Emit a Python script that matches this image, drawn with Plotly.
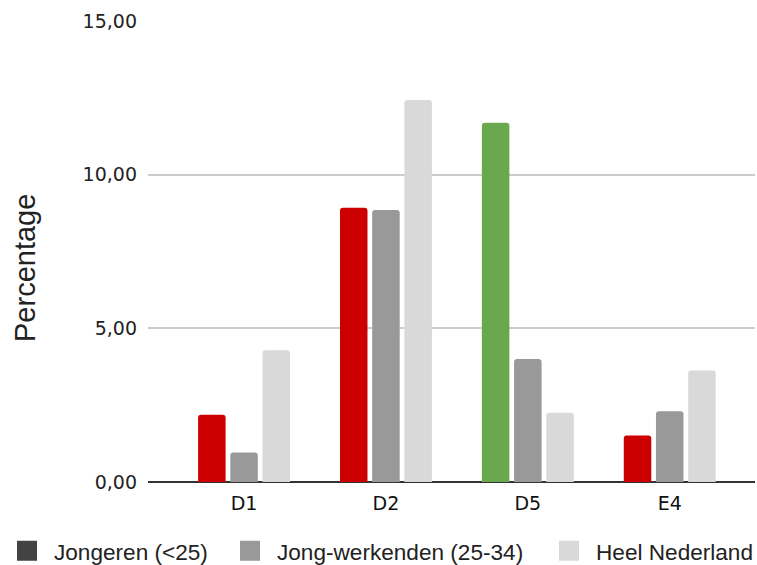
import plotly.graph_objects as go

# Chart data
categories = ["D1", "D2", "D5", "E4"]
series_names = ["Jongeren (<25)", "Jong-werkenden (25-34)", "Heel Nederland"]
jongeren = [2.19, 8.92, 11.69, 1.51]
jong_werkenden = [0.96, 8.85, 4.00, 2.30]
heel_nederland = [4.29, 12.43, 2.25, 3.63]

# Styling
jongeren_colors = ["#cc0000", "#cc0000", "#6aa84f", "#cc0000"]
series_colors = ["#434343", "#999999", "#d9d9d9"]
y_ticks = [0, 5, 10, 15]
y_tick_labels = ["0,00", "5,00", "10,00", "15,00"]

W, H = 757, 565
ML, MR, MT, MB = 148, 2, 21, 83
TICK_FONT = dict(family="DejaVu Sans", size=19, color="#222222")
LEGEND_FONT = dict(family="Liberation Sans", size=22.6, color="#222222")

fig = go.Figure()

bar_series = [
    (jongeren, jongeren_colors),
    (jong_werkenden, series_colors[1]),
    (heel_nederland, series_colors[2]),
]
for name, (values, color) in zip(series_names, bar_series):
    fig.add_trace(go.Bar(
        x=categories, y=values, name=name,
        marker=dict(color=color, line=dict(width=0), cornerradius=3),
        showlegend=False, hoverinfo="x+y",
    ))

# Legend entries (one legend per entry so each can be placed independently)
legend_ids = ["legend", "legend2", "legend3"]
legend_x = [0, 223, 542]
for name, color, lid in zip(series_names, series_colors, legend_ids):
    fig.add_trace(go.Scatter(
        x=[None], y=[None], name=name, mode="markers",
        marker=dict(symbol="square", size=16, color=color,
                    line=dict(color=color, width=4)),
        legend=lid, showlegend=True,
    ))

legend_common = dict(
    orientation="h", xref="container", yref="container",
    xanchor="left", yanchor="middle", y=(H - 551) / H,
    font=LEGEND_FONT, bgcolor="rgba(0,0,0,0)", borderwidth=0,
    itemwidth=44,
)
layout_legends = {}
for lid, lx in zip(legend_ids, legend_x):
    layout_legends[lid] = dict(legend_common, x=lx / W)

plot_w = W - ML - MR
plot_h = H - MT - MB

fig.update_layout(
    width=W, height=H,
    margin=dict(l=ML, r=MR, t=MT, b=MB),
    paper_bgcolor="white", plot_bgcolor="white",
    barmode="group", bargap=0.319, bargroupgap=0.146,
    xaxis=dict(
        type="category", range=[-0.677, 3.601],
        showgrid=False, showline=False, zeroline=False,
        ticks="", tickfont=dict(TICK_FONT, color="#111111"), ticklabelstandoff=8,
    ),
    yaxis=dict(
        range=[0, 15], tickvals=y_ticks, ticktext=y_tick_labels,
        showgrid=True, gridcolor="#cccccc", gridwidth=2,
        zeroline=True, zerolinecolor="#333333", zerolinewidth=2,
        showline=False, ticks="", tickfont=TICK_FONT, ticklabelstandoff=10,
    ),
    annotations=[dict(
        text="Percentage", textangle=-90, showarrow=False,
        xref="paper", yref="paper",
        x=(25 - ML) / plot_w, y=(H - MB - 268) / plot_h,
        xanchor="center", yanchor="middle",
        font=dict(family="Liberation Sans", size=29, color="#222222"),
    )],
    **layout_legends,
)

fig.write_html("out.html")
